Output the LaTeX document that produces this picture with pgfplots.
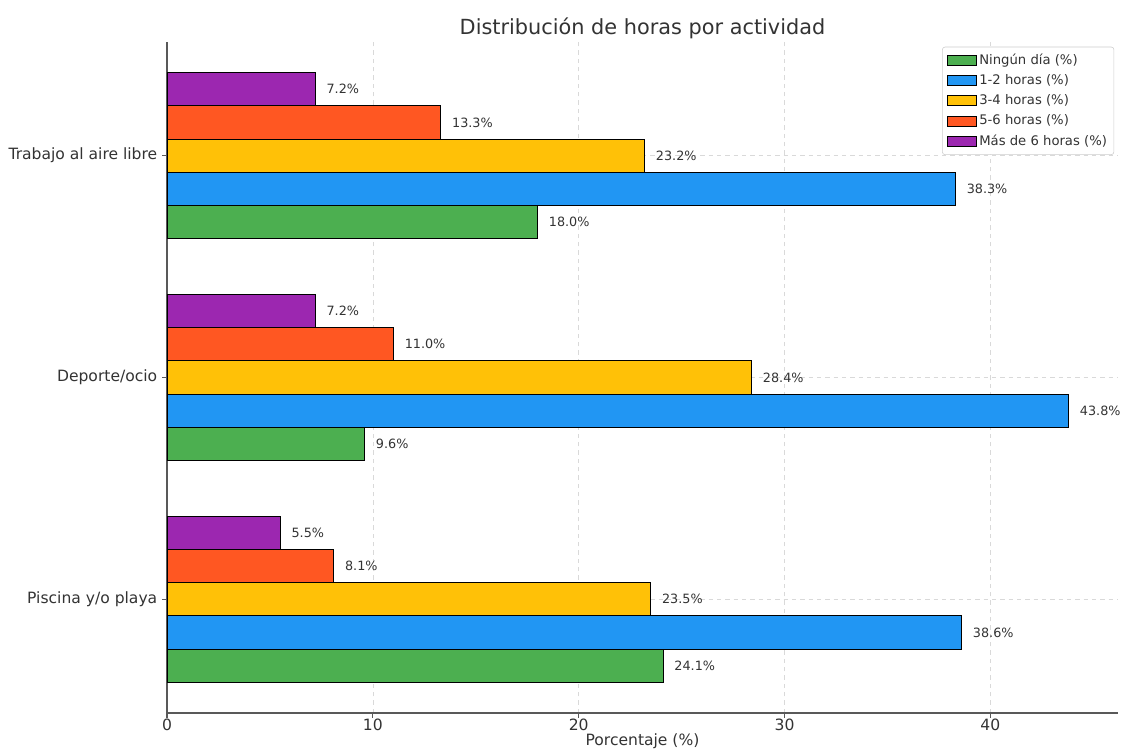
\documentclass[border=0pt]{standalone}
\usepackage{pgfplots}
\pgfplotsset{compat=1.18}
\usepackage{fontspec}
\setmainfont{DejaVu Sans}

\definecolor{cgreen}{HTML}{4CAF50}
\definecolor{cblue}{HTML}{2196F3}
\definecolor{cyellow}{HTML}{FFC107}
\definecolor{corange}{HTML}{FF5722}
\definecolor{cpurple}{HTML}{9C27B0}
\definecolor{txt}{HTML}{333333}

% y = 0 Piscina, 1 Deporte, 2 Trabajo
\pgfplotstableread{
y  ninguno h12  h34  h56  h6
0  24.1    38.6 23.5 8.1  5.5
1  9.6     43.8 28.4 11.0 7.2
2  18.0    38.3 23.2 13.3 7.2
}\datos

\begin{document}
\begin{tikzpicture}
\begin{axis}[
    scale only axis,
    width=684.7pt, height=483.1pt,
    xbar, bar width=0.15,
    xmin=0, xmax=46.2,
    ymin=-0.5125, ymax=2.5125,
    ytick={0,1,2},
    yticklabels={Piscina y/o playa, Deporte/ocio, Trabajo al aire libre},
    xtick={0,10,20,30,40},
    axis x line*=bottom, axis y line*=left,
    axis line style={-, black!65, line width=0.8pt},
    tick style={black!65, line width=0.8pt},
    tick align=outside, major tick length=3.5pt,
    ticklabel style={font=\fontsize{11.2}{13}\selectfont, text=txt},
    xticklabel style={yshift=2.5pt},
    /pgf/number format/assume math mode=true,
    grid=major,
    major grid style={dashed, black!15, line width=0.5pt},
    title={Distribución de horas por actividad},
    title style={font=\fontsize{15}{18}\selectfont, text=txt, yshift=-7.5pt},
    xlabel={Porcentaje (\%)},
    xlabel style={font=\fontsize{11.2}{13}\selectfont, text=txt, yshift=5pt},
    point meta=x,
    nodes near coords={\pgfmathprintnumber[fixed,fixed zerofill,precision=1]{\pgfplotspointmeta}\%},
    nodes near coords style={anchor=west, xshift=4.5pt, font=\fontsize{9.2}{10}\selectfont, text=txt},
    every axis plot/.append style={draw=black, line width=0.7pt},
    legend style={at={(0.996,0.993)}, anchor=north east,
        font=\fontsize{9.5}{11}\selectfont, text=txt,
        draw=black!20, rounded corners=2pt, row sep=1.8pt,
        inner xsep=3pt, inner ysep=3pt},
    legend cell align=left,
    legend image code/.code={\draw[#1, sharp corners, line width=0.6pt] (0pt,-3.6pt) rectangle (21pt,3.6pt);},
]
\addplot[fill=cgreen,  bar shift=-0.3]  table[x=ninguno, y=y] {\datos};
\addplot[fill=cblue,   bar shift=-0.15] table[x=h12, y=y] {\datos};
\addplot[fill=cyellow, bar shift=0]     table[x=h34, y=y] {\datos};
\addplot[fill=corange, bar shift=0.15]  table[x=h56, y=y] {\datos};
\addplot[fill=cpurple, bar shift=0.3]   table[x=h6, y=y] {\datos};
\legend{Ningún día (\%), 1-2 horas (\%), 3-4 horas (\%), 5-6 horas (\%), Más de 6 horas (\%)}
\coordinate (ll) at (rel axis cs:0,0);
\coordinate (ur) at (rel axis cs:1,1);
\end{axis}
\pgfresetboundingbox
\useasboundingbox ([shift={(-120.24pt,-28.8pt)}]ll) rectangle ([shift={(5.76pt,30.24pt)}]ur);
\end{tikzpicture}
\end{document}
